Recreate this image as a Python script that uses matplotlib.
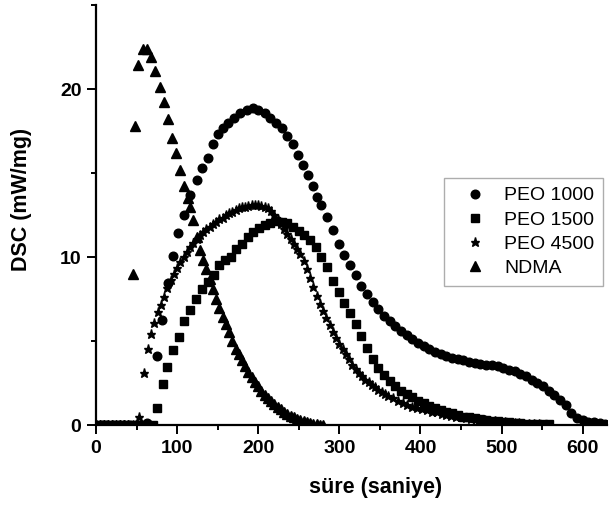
import matplotlib
matplotlib.use('Agg')
import matplotlib.pyplot as plt
from matplotlib.ticker import MultipleLocator

plt.rcParams['font.family'] = ['Liberation Sans', 'DejaVu Sans']

# PEO 1000 (circles)
t_1000 = [0, 7, 14, 21, 28, 35, 42, 49, 56, 63,
          75, 81, 89, 95, 101, 109, 116, 124, 131, 138, 144, 151, 156, 163, 170,
          177, 186, 194, 200, 208, 215, 222, 229, 235, 243, 249, 255, 261, 267,
          272, 278, 285, 292, 299, 306, 313, 320, 327, 334, 341, 348, 355, 362,
          369, 376, 383, 390, 397, 404, 411, 418, 425, 432, 439, 446, 453, 460,
          467, 474, 481, 488, 495, 502, 509, 516, 523, 530, 537, 544, 551, 558,
          565, 572, 579, 586, 593, 600, 607, 614, 621, 628]
dsc_1000 = [0, 0, 0, 0, 0, 0, 0, 0, 0, 0.1,
            4.1, 6.25, 8.45, 10.05, 11.4, 12.5, 13.7, 14.6, 15.3, 15.9, 16.7, 17.3, 17.7, 18.0, 18.3,
            18.55, 18.75, 18.85, 18.75, 18.55, 18.3, 18.0, 17.7, 17.2, 16.7, 16.1, 15.5, 14.9, 14.2,
            13.6, 13.1, 12.4, 11.6, 10.8, 10.1, 9.5, 8.9, 8.3, 7.8, 7.3, 6.9, 6.5, 6.2,
            5.9, 5.6, 5.35, 5.1, 4.9, 4.7, 4.5, 4.35, 4.2, 4.1, 4.0, 3.9, 3.85, 3.75,
            3.7, 3.65, 3.6, 3.55, 3.5, 3.4, 3.3, 3.2, 3.05, 2.9, 2.7, 2.5, 2.3, 2.05,
            1.8, 1.5, 1.2, 0.7, 0.4, 0.3, 0.2, 0.15, 0.1, 0.05]

# PEO 1500 (squares)
t_1500 = [0, 7, 14, 21, 28, 35, 42, 49, 56, 63, 70,
          75, 82, 88, 95, 102, 109, 116, 123, 131, 138, 145, 152, 159, 166, 173,
          180, 187, 194, 201, 208, 215, 222, 229, 236, 243, 250, 257, 264, 271,
          278, 285, 292, 299, 306, 313, 320, 327, 334, 341, 348, 355, 362, 369,
          376, 383, 390, 397, 404, 411, 418, 425, 432, 439, 446, 453, 460, 467,
          474, 481, 488, 495, 502, 509, 516, 523, 530, 537, 544, 551, 558]
dsc_1500 = [0, 0, 0, 0, 0, 0, 0, 0, 0, 0, 0,
            1.0, 2.45, 3.45, 4.45, 5.25, 6.2, 6.85, 7.5, 8.1, 8.5, 8.95, 9.5, 9.8, 10.0, 10.5,
            10.8, 11.2, 11.5, 11.75, 11.9, 12.05, 12.15, 12.1, 12.0, 11.8, 11.55, 11.3, 11.0, 10.6,
            10.0, 9.4, 8.6, 7.9, 7.25, 6.65, 6.0, 5.3, 4.6, 3.95, 3.4, 2.95, 2.6, 2.3,
            2.05, 1.85, 1.65, 1.45, 1.3, 1.15, 1.0, 0.9, 0.8, 0.7, 0.6, 0.5, 0.45, 0.4,
            0.35, 0.3, 0.25, 0.22, 0.2, 0.15, 0.1, 0.1, 0.05, 0.05, 0.05, 0.05, 0.05]

# PEO 4500 (stars)
t_4500 = [0, 5, 10, 15, 20, 25, 30, 35, 40, 45, 50,
          53, 59, 64, 68, 72, 76, 80, 84, 88, 92, 96, 100, 104, 108, 112, 116,
          120, 124, 128, 132, 136, 140, 144, 148, 152, 156, 160, 164, 168, 172,
          176, 180, 184, 188, 192, 196, 200, 204, 208, 212, 216, 220, 224, 228,
          232, 236, 240, 244, 248, 252, 256, 260, 264, 268, 272, 276, 280, 284,
          288, 292, 296, 300, 304, 308, 312, 316, 320, 324, 328, 332, 336, 340,
          344, 348, 352, 356, 360, 366, 372, 378, 384, 390, 396, 402, 408, 414,
          420, 426, 432, 438, 444, 450, 456, 462, 468, 474, 480, 486, 492, 498,
          504, 510, 516, 522, 528, 534, 540, 546]
dsc_4500 = [0, 0, 0, 0, 0, 0, 0, 0, 0, 0, 0,
            0.5, 3.1, 4.5, 5.4, 6.05, 6.7, 7.15, 7.6, 8.15, 8.65, 9.0, 9.35, 9.7, 10.0, 10.3, 10.6,
            10.85, 11.1, 11.3, 11.5, 11.65, 11.8, 11.95, 12.1, 12.25, 12.35, 12.5, 12.6, 12.7, 12.8,
            12.9, 12.95, 13.0, 13.05, 13.1, 13.1, 13.1, 13.05, 13.0, 12.9, 12.75, 12.5, 12.25, 11.95,
            11.65, 11.35, 11.05, 10.75, 10.45, 10.15, 9.75, 9.3, 8.75, 8.2, 7.7, 7.2, 6.8, 6.35,
            5.95, 5.55, 5.15, 4.8, 4.5, 4.2, 3.9, 3.6, 3.35, 3.1, 2.9, 2.7, 2.55, 2.4,
            2.25, 2.1, 1.95, 1.85, 1.75, 1.6, 1.45, 1.3, 1.2, 1.1, 1.0, 0.95, 0.88, 0.8,
            0.75, 0.68, 0.62, 0.56, 0.5, 0.46, 0.42, 0.38, 0.34, 0.3, 0.27, 0.24, 0.21, 0.19,
            0.16, 0.13, 0.11, 0.09, 0.07, 0.05, 0.04, 0.03]

# NDMA (triangles)
t_ndma = [0, 5, 10, 15, 20, 25, 30, 35, 40,
          45, 48, 52, 58, 63, 68, 73, 79, 84, 89, 94, 99, 103, 108, 113, 116, 119,
          124, 128, 132, 136, 140, 144, 148, 152, 156, 160, 164, 168, 172, 176,
          180, 184, 188, 192, 196, 200, 204, 208, 212, 216, 220, 224, 228, 232,
          236, 240, 244, 248, 252, 256, 260, 264, 268, 272, 276, 280]
dsc_ndma = [0, 0, 0, 0, 0, 0, 0, 0, 0,
            9.0, 17.8, 21.4, 22.4, 22.4, 21.9, 21.1, 20.1, 19.2, 18.2, 17.1, 16.2, 15.2, 14.2, 13.5, 13.0, 12.2,
            11.2, 10.4, 9.8, 9.3, 8.7, 8.1, 7.5, 6.95, 6.45, 6.0, 5.55, 5.0, 4.55, 4.2,
            3.85, 3.5, 3.15, 2.85, 2.55, 2.3, 2.05, 1.8, 1.6, 1.4, 1.25, 1.1, 0.95, 0.8,
            0.68, 0.56, 0.46, 0.37, 0.29, 0.22, 0.16, 0.11, 0.07, 0.04, 0.02, 0.0]

fig = plt.figure(figsize=(6.09, 5.07), dpi=100)
ax = fig.add_axes([96/609, 1-425/507, 511/609, 420/507])

ax.plot(t_1000, dsc_1000, 'ko', ms=6.2, ls='none', label='PEO 1000')
ax.plot(t_1500, dsc_1500, 'ks', ms=5.4, ls='none', label='PEO 1500')
ax.plot(t_4500, dsc_4500, 'k*', ms=6.5, ls='none', label='PEO 4500')
ax.plot(t_ndma, dsc_ndma, 'k^', ms=6.5, ls='none', label='NDMA')

ax.set_xlim(0, 630)
ax.set_ylim(0, 25)
ax.xaxis.set_major_locator(MultipleLocator(100))
ax.xaxis.set_minor_locator(MultipleLocator(50))
ax.yaxis.set_major_locator(MultipleLocator(10))
ax.yaxis.set_minor_locator(MultipleLocator(5))

for side in ['top', 'right']:
    ax.spines[side].set_visible(False)
for side in ['left', 'bottom']:
    ax.spines[side].set_linewidth(1.6)

ax.tick_params(which='major', direction='out', length=6.5, width=1.4, labelsize=14, pad=4)
ax.tick_params(which='minor', direction='out', length=3.5, width=1.4)
for lab in ax.get_xticklabels() + ax.get_yticklabels():
    lab.set_fontweight('bold')

ax.set_xlabel('süre (saniye)', fontsize=15.5, fontweight='bold')
ax.set_ylabel('DSC (mW/mg)', fontsize=15.5, fontweight='bold')
# label positions (axes fraction)
ax.xaxis.set_label_coords(0.548, -0.124)
ax.yaxis.set_label_coords(-0.125, 0.536)

leg = ax.legend(loc='upper left', bbox_to_anchor=(444/609, 1-178/507),
                bbox_transform=fig.transFigure, borderaxespad=0,
                fancybox=False, edgecolor='#999999', fontsize=14,
                handletextpad=0.35, labelspacing=0.34, borderpad=0.45,
                handlelength=2.3, markerscale=1.0)
leg.get_frame().set_linewidth(1.0)

plt.savefig('out.png', dpi=100)
